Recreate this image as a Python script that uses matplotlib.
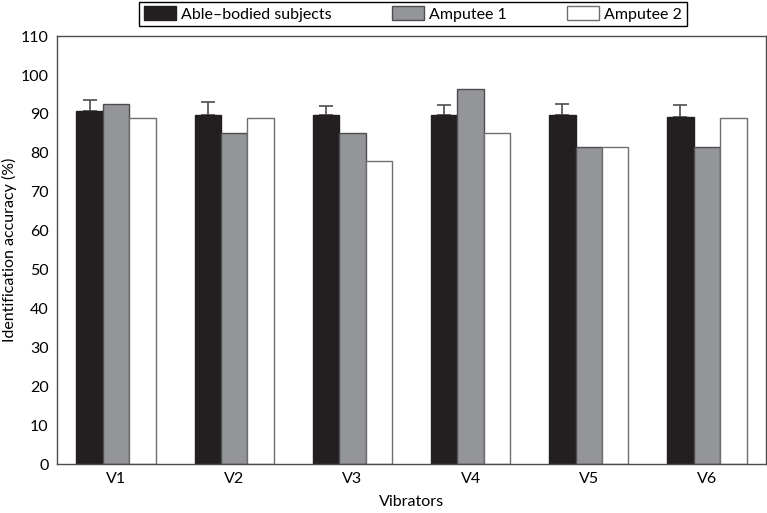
import matplotlib.pyplot as plt
import numpy as np

plt.rcParams['font.family'] = ['Lato', 'DejaVu Sans']

vibrators = ['V1', 'V2', 'V3', 'V4', 'V5', 'V6']
able_bodied = [90.7, 89.7, 89.7, 89.7, 89.7, 89.2]
able_bodied_err = [3.0, 3.3, 2.3, 2.5, 2.8, 3.2]
amputee1 = [92.6, 85.2, 85.2, 96.3, 81.5, 81.5]
amputee2 = [88.9, 88.9, 77.8, 85.2, 81.5, 88.9]

x = np.arange(1, len(vibrators) + 1)
w = 0.224

fig = plt.figure(figsize=(7.67, 5.13), dpi=100)
ax = fig.add_axes([0.0743, 0.0955, 0.9244, 0.834])

ax.bar(x - w, able_bodied, w, color='#231f20', edgecolor='#231f20', linewidth=1,
       label='Able\u2013bodied subjects', zorder=2)
ax.errorbar(x - w, able_bodied, yerr=[np.zeros(6), able_bodied_err], fmt='none',
            ecolor='#4d4d4f', elinewidth=1.2, capsize=5, capthick=1.2, zorder=1)
ax.bar(x, amputee1, w, color='#939598', edgecolor='#4d4d4f', linewidth=1,
       label='Amputee 1', zorder=2)
ax.bar(x + w, amputee2, w, color='white', edgecolor='#6d6e71', linewidth=1,
       label='Amputee 2', zorder=2)

ax.set_xlim(0.5, 6.5)
ax.set_ylim(0, 110)
ax.set_yticks(range(0, 111, 10))
ax.set_xticks(x)
ax.set_xticklabels(vibrators)
ax.tick_params(length=0, labelsize=11.5, pad=6)
for s in ax.spines.values():
    s.set_color('#4d4d4f')
    s.set_linewidth(1)

ax.set_xlabel('Vibrators', fontsize=11.5)
ax.set_ylabel('Identification accuracy (%)', fontsize=11.5)
ax.xaxis.set_label_coords(0.5, -0.072)
ax.yaxis.set_label_coords(-0.056, 0.5)

fig.legend(loc='upper center', bbox_to_anchor=(0.5385, 1.0), ncol=3, fontsize=11.5,
           frameon=True, fancybox=False, edgecolor='black', framealpha=1,
           handlelength=2.0, handleheight=0.9, handletextpad=0.3, columnspacing=3.8,
           borderpad=0.3, borderaxespad=0.1)

fig.savefig('out.png', dpi=100)
